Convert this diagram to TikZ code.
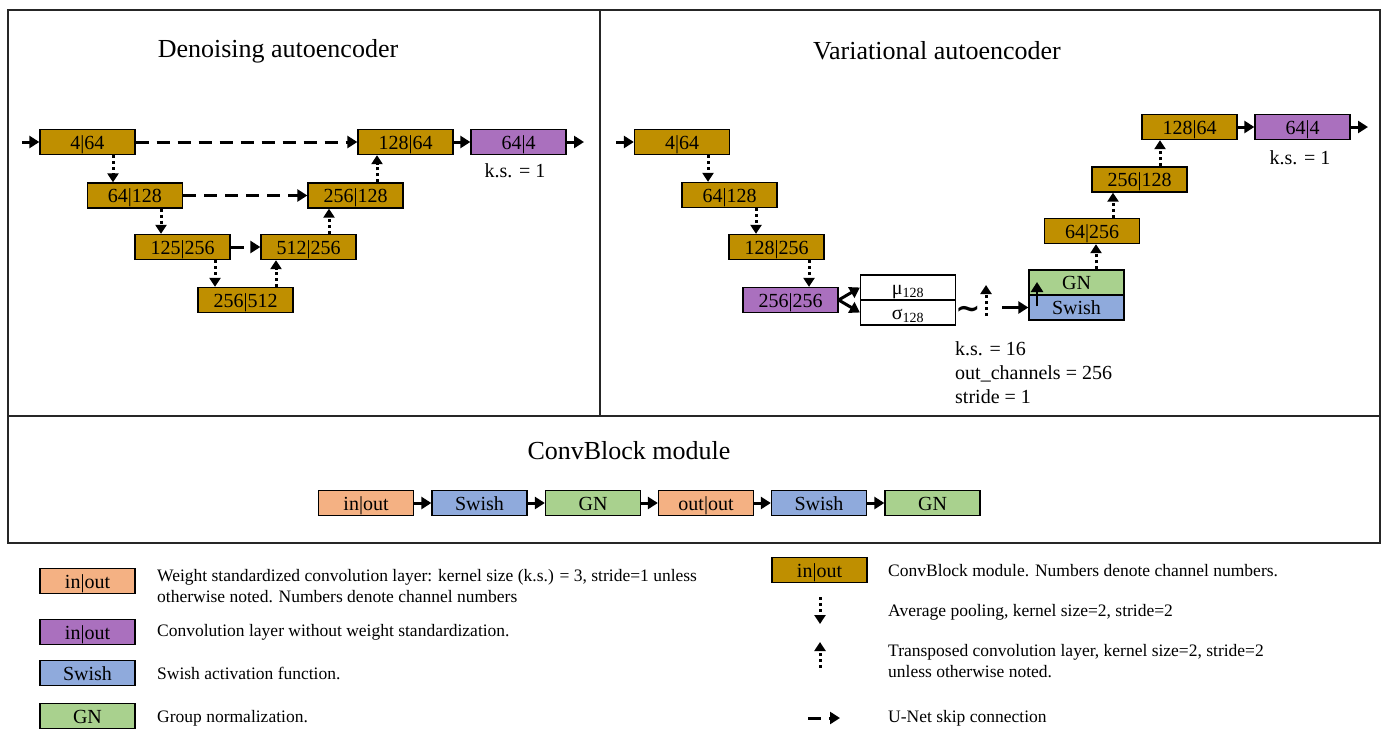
\documentclass[tikz,border=0pt]{standalone}
\usepackage{fontspec}
\setmainfont{Liberation Serif}
\newfontfamily\tildefont{DejaVu Sans}
\usetikzlibrary{arrows.meta,calc}
\definecolor{cbgold}{RGB}{191,143,0}
\definecolor{cvpurple}{RGB}{170,112,190}
\definecolor{wsorange}{RGB}{244,177,131}
\definecolor{swblue}{RGB}{143,170,220}
\definecolor{gngreen}{RGB}{169,209,142}
\begin{document}
\begin{tikzpicture}[x=1pt,y=-1pt,
  blk/.style={draw=black, line width=1.3pt, minimum width=95pt, minimum height=25pt,
    inner sep=0pt, text height=15pt, text depth=1pt, font=\fontsize{20}{24}\selectfont},
  cb/.style={blk, fill=cbgold},
  cv/.style={blk, fill=cvpurple},
  ws/.style={blk, fill=wsorange},
  sw/.style={blk, fill=swblue},
  gn/.style={blk, fill=gngreen},
  ms/.style={blk, fill=white},
  ttl/.style={font=\fontsize{26}{30}\selectfont},
  lbl/.style={font=\fontsize{20}{24}\selectfont, align=left},
  lgd/.style={font=\fontsize{17.5}{21}\selectfont, align=left, anchor=west, inner sep=0pt},
  flow/.style={line width=3pt, -{Triangle[length=10pt,width=12pt]}},
  skip/.style={line width=3pt, dash pattern=on 13pt off 8pt, -{Triangle[length=10pt,width=12pt]}},
  pool/.style={line width=3pt, dash pattern=on 3pt off 3pt, -{Triangle[length=9pt,width=11pt]}},
  frame/.style={line width=1.5pt, draw=black!85}
]
\useasboundingbox (0,0) rectangle (1386,729);
% frames
\draw[frame] (8,10) rectangle (1380,543);
\draw[frame] (600,10) -- (600,416);
\draw[frame] (8,416) -- (1380,416);

% titles
\node[ttl] (t1) at (278,51) {Denoising autoencoder};
\node[ttl] (t2) at (937,51) {Variational autoencoder};
\node[ttl] (t3) at (629,451) {ConvBlock module};

% ---------- Denoising autoencoder ----------
\node[cb] (d1) at (87.5,142) {4|64};
\node[cb] (d2) at (135,195.5) {64|128};
\node[cb] (d3) at (182.5,247) {125|256};
\node[cb] (d4) at (245.5,300) {256|512};
\node[cb] (d5) at (308.5,247) {512|256};
\node[cb] (d6) at (355.5,195.5) {256|128};
\node[cb] (d7) at (405.5,142) {128|64};
\node[cv] (d8) at (518.5,142) {64|4};
\node[lbl] (ks1) at (515,171) {k.s. = 1};
\coordinate (din) at (22,142);
\coordinate (dout) at (584,142);
\coordinate (xa) at (113,0);
\coordinate (xb) at (161,0);
\coordinate (xc) at (215,0);
\coordinate (xd) at (276,0);
\coordinate (xe) at (329,0);
\coordinate (xf) at (377,0);

\draw[flow] (din) -- (d1.west);
\draw[flow] (d7.east) -- (d8.west);
\draw[flow] (d8.east) -- (dout);
\draw[skip] (d1.east) -- (d7.west);
\draw[skip] (d2.east) -- (d6.west);
\draw[skip] (d3.east) -- (d5.west);
\draw[pool] (d1.south -| xa) -- (d2.north -| xa);
\draw[pool] (d2.south -| xb) -- (d3.north -| xb);
\draw[pool] (d3.south -| xc) -- (d4.north -| xc);
\draw[pool] (d4.north -| xd) -- (d5.south -| xd);
\draw[pool] (d5.north -| xe) -- (d6.south -| xe);
\draw[pool] (d6.north -| xf) -- (d7.south -| xf);

% ---------- Variational autoencoder ----------
\node[cb] (v1) at (682,142) {4|64};
\node[cb] (v2) at (729.5,195) {64|128};
\node[cb] (v3) at (776.5,247) {128|256};
\node[cv] (v4) at (790.5,300) {256|256};
\node[ms] (mu) at (908,287.5) {μ\textsubscript{128}};
\node[ms] (sg) at (908,312.5) {σ\textsubscript{128}};
\node[font=\fontsize{30}{34}\selectfont\tildefont\bfseries, inner sep=0pt] (tl) at (968,312) {∼};
\node[gn] (v5) at (1076.5,282.5) {GN};
\node[sw] (v6) at (1076.5,307.5) {Swish};
\node[cb] (v7) at (1092,231) {64|256};
\node[cb] (v8) at (1139.5,179.5) {256|128};
\node[cb] (v9) at (1189.5,127) {128|64};
\node[cv] (v10) at (1302.5,127) {64|4};
\node[lbl] (ks2) at (1300,158) {k.s. = 1};
\node[lbl, anchor=west, inner sep=0pt] (ks3) at (955,373) {k.s. = 16\\out\_channels = 256\\stride = 1};

\coordinate (vin) at (616,142);
\coordinate (vout) at (1368,127);
\coordinate (ya) at (708,0);
\coordinate (yb) at (756,0);
\coordinate (yc) at (809,0);
\coordinate (yd) at (1096,0);
\coordinate (ye) at (1113,0);
\coordinate (yf) at (1160,0);
\coordinate (tb) at (986,316);
\coordinate (tt) at (986,285);
\coordinate (sa) at (1002,307.5);
\coordinate (ia) at (1037,306);
\coordinate (ib) at (1037,282);

\draw[flow] (vin) -- (v1.west);
\draw[pool] (v1.south -| ya) -- (v2.north -| ya);
\draw[pool] (v2.south -| yb) -- (v3.north -| yb);
\draw[pool] (v3.south -| yc) -- (v4.north -| yc);
\draw[flow] (v4.east) -- (mu.west);
\draw[flow] (v4.east) -- (sg.west);
\draw[pool] (tb) -- (tt);
\draw[flow] (sa) -- (v6.west);
\draw[flow, line width=2.5pt] (ia) -- (ib);
\draw[pool] (v5.north -| yd) -- (v7.south -| yd);
\draw[pool] (v7.north -| ye) -- (v8.south -| ye);
\draw[pool] (v8.north -| yf) -- (v9.south -| yf);
\draw[flow] (v9.east) -- (v10.west);
\draw[flow] (v10.east) -- (vout);

% ---------- ConvBlock module ----------
\node[ws] (c1) at (366,503) {in|out};
\node[sw] (c2) at (479.5,503) {Swish};
\node[gn] (c3) at (593,503) {GN};
\node[ws] (c4) at (706,503) {out|out};
\node[sw] (c5) at (819,503) {Swish};
\node[gn] (c6) at (932.5,503) {GN};
\draw[flow] (c1.east) -- (c2.west);
\draw[flow] (c2.east) -- (c3.west);
\draw[flow] (c3.east) -- (c4.west);
\draw[flow] (c4.east) -- (c5.west);
\draw[flow] (c5.east) -- (c6.west);

% ---------- Legend ----------
\node[ws] (l1) at (87.5,581) {in|out};
\node[lgd] (l1t) at (157,586) {Weight standardized convolution layer: kernel size (k.s.) = 3, stride=1 unless\\otherwise noted. Numbers denote channel numbers};
\node[cv] (l2) at (87.5,632) {in|out};
\node[lgd] (l2t) at (157,632) {Convolution layer without weight standardization.};
\node[sw] (l3) at (87.5,673) {Swish};
\node[lgd] (l3t) at (157,673) {Swish activation function.};
\node[gn] (l4) at (87.5,716) {GN};
\node[lgd] (l4t) at (157,718) {Group normalization.};

\node[cb] (r1) at (819.5,570) {in|out};
\node[lgd] (r1t) at (888,571) {ConvBlock module. Numbers denote channel numbers.};
\coordinate (p1) at (820,597);
\coordinate (p2) at (820,624);
\node[lgd] (r2t) at (888,612) {Average pooling, kernel size=2, stride=2};
\coordinate (q1) at (820,668);
\coordinate (q2) at (820,642);
\node[lgd] (r3t) at (888,661) {Transposed convolution layer, kernel size=2, stride=2\\unless otherwise noted.};
\coordinate (s1) at (808,718);
\coordinate (s2) at (840,718);
\node[lgd] (r4t) at (888,718) {U-Net skip connection};
\draw[pool] (p1) -- (p2);
\draw[pool] (q1) -- (q2);
\draw[skip] (s1) -- (s2);
\end{tikzpicture}
\end{document}
